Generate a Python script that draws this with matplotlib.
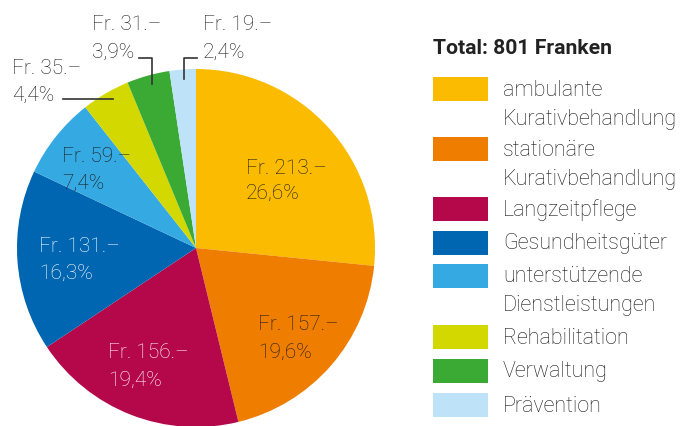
import matplotlib.pyplot as plt
from matplotlib.patches import Rectangle

W, H = 682, 426

categories = ["ambulante\nKurativbehandlung", "stationäre\nKurativbehandlung", "Langzeitpflege",
              "Gesundheitsgüter", "unterstützende\nDienstleistungen", "Rehabilitation",
              "Verwaltung", "Prävention"]
values = [213, 157, 156, 131, 59, 35, 31, 19]
percents = ["26,6%", "19,6%", "19,4%", "16,3%", "7,4%", "4,4%", "3,9%", "2,4%"]
colors = ["#FABB00", "#EF7D00", "#B5084A", "#0066B1", "#35A9E1", "#D3D800", "#3BAA35", "#BEE3F8"]
total_label = "Total: 801 Franken"

plt.rcParams['font.family'] = ['Roboto', 'DejaVu Sans']
txt_color = "#1a1a1a"

fig = plt.figure(figsize=(W / 100, H / 100), dpi=100)
ax = fig.add_axes([0, 0, 1, 1])

def py(y):
    return H - y

# pie
cx, cy, r = 196, 248, 179
ax.pie(values, colors=colors, startangle=90, counterclock=False,
       center=(cx, py(cy)), radius=r, frame=True,
       wedgeprops=dict(linewidth=0))
ax.set_xlim(0, W)
ax.set_ylim(0, H)
ax.set_aspect('equal')
ax.axis('off')

# slice labels (left x, first line y, second line y) in pixels
label_pos = [(246, 168, 193), (258, 325, 352), (108, 352, 380), (39, 246, 273),
             (62, 156, 183), (12, 68, 95), (92, 25, 52), (203, 25, 52)]
label_colors = [txt_color, txt_color, "white", "white",
                txt_color, txt_color, txt_color, txt_color]
for v, p, (lx, y1, y2), lc in zip(values, percents, label_pos, label_colors):
    ax.text(lx, py(y1), f"Fr. {v}.–", fontsize=15, fontweight='light',
            color=lc, ha='left', va='center')
    ax.text(lx, py(y2), p, fontsize=15, fontweight='light',
            color=lc, ha='left', va='center')

# leader lines for small slices
lw = 1.2
ax.plot([63, 113], [py(99), py(99)], color="#333333", lw=lw)
ax.plot([139, 152, 152], [py(58), py(58), py(84)], color="#333333", lw=lw)
ax.plot([197, 184, 184], [py(58), py(58), py(79)], color="#333333", lw=lw)

# legend
ax.text(433, py(48), total_label, fontsize=15.2, fontweight='bold',
        color="#222222", ha='left', va='center')
box_top = [77, 137, 197, 231, 264, 325, 359, 393]
for c, name, top in zip(colors, categories, box_top):
    ax.add_patch(Rectangle((433, py(top + 24)), 55, 24, facecolor=c, edgecolor='none'))
    for i, line in enumerate(name.split("\n")):
        ax.text(503, py(top + 13 + i * 29), line, fontsize=15.5, fontweight='light',
                color=txt_color, ha='left', va='center')

fig.savefig("out.png", dpi=100)
